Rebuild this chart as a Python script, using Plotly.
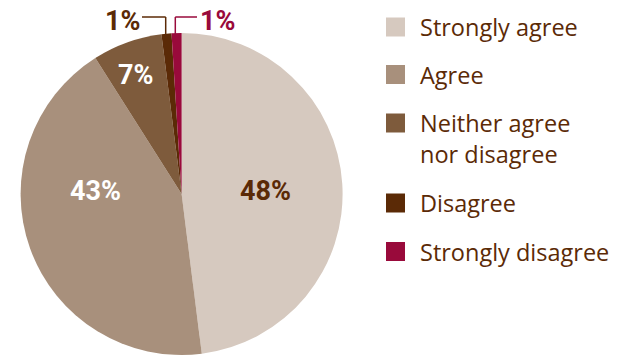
import plotly.graph_objects as go

# Survey responses (percent of respondents)
categories = ["Strongly agree", "Agree", "Neither agree<br>nor disagree", "Disagree", "Strongly disagree"]
values = [48, 43, 7, 1, 1]
colors = ["#d6c9bf", "#a8907c", "#7e5b3c", "#5b2a06", "#990a3b"]

W, H = 624, 356
TEXT_BROWN = "#5b2a06"
LEGEND_FONT = "Open Sans"
LABEL_FONT = "Roboto"

fig = go.Figure(
    go.Pie(
        labels=categories,
        values=values,
        sort=False,
        direction="clockwise",
        rotation=0,
        marker=dict(colors=colors, line=dict(width=0)),
        textinfo="none",
        hoverinfo="label+percent",
        showlegend=False,
        domain=dict(x=[20.6 / W, 342.6 / W], y=[1 / H, 323 / H]),
    )
)

def px(x, y):
    """Convert pixel coordinates (origin top-left) to paper coordinates."""
    return x / W, 1 - y / H

annotations = []
shapes = []

# Value labels on / beside the slices
label_pos = [(265, 190.5), (95.3, 190.5), (135.5, 75), (122.8, 21), (217, 21)]
label_col = [TEXT_BROWN, "white", "white", TEXT_BROWN, colors[4]]
for v, (lx, ly), c in zip(values, label_pos, label_col):
    ax, ay = px(lx, ly)
    annotations.append(dict(
        x=ax, y=ay, xref="paper", yref="paper", text=f"<b>{v}%</b>",
        showarrow=False, xanchor="center", yanchor="middle",
        font=dict(family=LABEL_FONT, size=27, color=c),
    ))

# Leader lines for the two small slices
def seg(x0, y0, x1, y1, color):
    a0, b0 = px(x0, y0)
    a1, b1 = px(x1, y1)
    shapes.append(dict(type="line", xref="paper", yref="paper",
                       x0=a0, y0=b0, x1=a1, y1=b1,
                       line=dict(color=color, width=1.5)))

seg(142, 17, 165.7, 17, colors[3])
seg(165.7, 17, 165.7, 34, colors[3])
seg(175.3, 17, 175.3, 34, colors[4])
seg(175.3, 17, 197, 17, colors[4])

# Custom legend: square swatch + label
legend_y = [27, 74.5, 123, 203, 251.5]
sq = 19
for cat, c, ly in zip(categories, colors, legend_y):
    x0, y0 = px(386, ly - sq / 2)
    x1, y1 = px(386 + sq, ly + sq / 2)
    shapes.append(dict(type="rect", xref="paper", yref="paper",
                       x0=x0, y0=y1, x1=x1, y1=y0,
                       fillcolor=c, line=dict(width=0)))
    tx, ty = px(418, ly)
    multi = "<br>" in cat
    annotations.append(dict(
        x=tx, y=ty, xref="paper", yref="paper", text=cat,
        showarrow=False, xanchor="left", yanchor="top" if multi else "middle",
        yshift=18 if multi else 0,
        align="left",
        font=dict(family=LEGEND_FONT, size=23.5, color=TEXT_BROWN),
    ))

fig.update_layout(
    width=W, height=H,
    margin=dict(l=0, r=0, t=0, b=0),
    paper_bgcolor="white",
    plot_bgcolor="white",
    annotations=annotations,
    shapes=shapes,
)

fig.write_html("out.html")
